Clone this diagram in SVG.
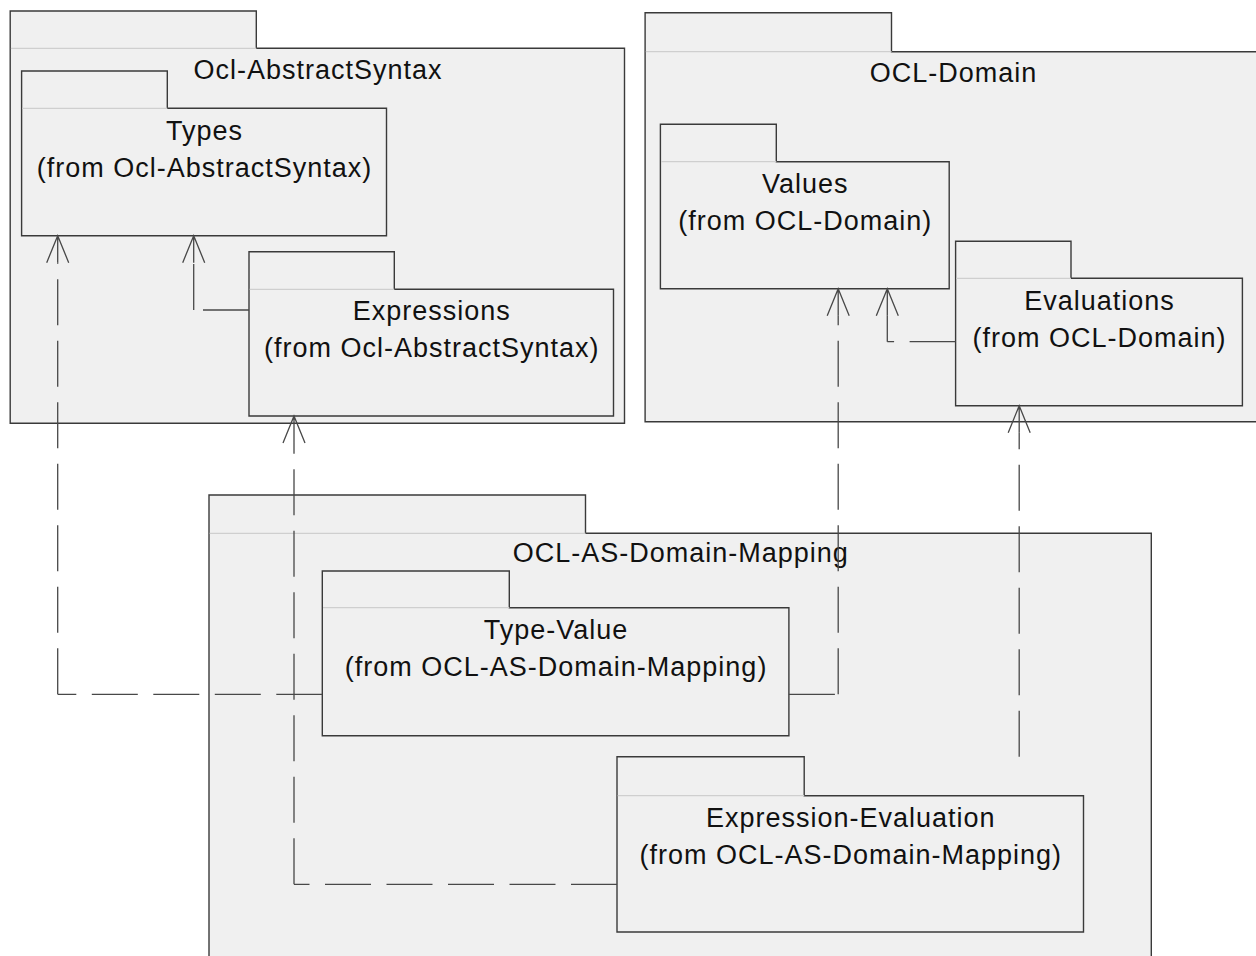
<svg xmlns="http://www.w3.org/2000/svg" width="1256" height="956" viewBox="0 0 1256 956">
<defs>
<style>
.pkg{fill:#f0f0f0;stroke:#3a3a3a;stroke-width:1.4}
.sep{stroke:#cfcfcf;stroke-width:1.2;fill:none}
.lbl{font-family:"Liberation Sans",Arial,sans-serif;font-size:27px;letter-spacing:1px;fill:#111;text-anchor:middle}
.dash{stroke:#484848;stroke-width:1.3;fill:none;stroke-dasharray:46 15.5}
.head{stroke:#484848;stroke-width:1.3;fill:none}
</style>
</defs>
<rect width="1256" height="956" fill="#ffffff"/>

<g id="ocl-abstractsyntax">
<path class="pkg" d="M10.2,11 H256.3 V48.3 H624.5 V423.3 H10.2 Z"/>
<line class="sep" x1="10.9" y1="48.3" x2="256.3" y2="48.3"/>
<text class="lbl" x="318" y="79.3">Ocl-AbstractSyntax</text>
</g>

<g id="types">
<path class="pkg" d="M21.6,71 H167.3 V108.3 H386.5 V235.7 H21.6 Z"/>
<line class="sep" x1="22.3" y1="108.3" x2="167.3" y2="108.3"/>
<text class="lbl" x="204.5" y="140">Types</text>
<text class="lbl" x="204.5" y="176.5">(from Ocl-AbstractSyntax)</text>
</g>

<g id="expressions">
<path class="pkg" d="M249,251.7 H394.3 V289.3 H613.5 V416 H249 Z"/>
<line class="sep" x1="249.7" y1="289.3" x2="394.3" y2="289.3"/>
<text class="lbl" x="431.7" y="320">Expressions</text>
<text class="lbl" x="431.7" y="357.3">(from Ocl-AbstractSyntax)</text>
</g>

<g id="ocl-domain">
<path class="pkg" d="M645.1,12.7 H891.5 V51.7 H1262 V421.7 H645.1 Z"/>
<line class="sep" x1="645.8" y1="51.7" x2="891.5" y2="51.7"/>
<text class="lbl" x="953.5" y="81.5">OCL-Domain</text>
</g>

<g id="values">
<path class="pkg" d="M660.4,124.3 H776.3 V161.7 H949.2 V288.7 H660.4 Z"/>
<line class="sep" x1="661.1" y1="161.7" x2="776.3" y2="161.7"/>
<text class="lbl" x="805.3" y="193.3">Values</text>
<text class="lbl" x="805.3" y="230">(from OCL-Domain)</text>
</g>

<g id="evaluations">
<path class="pkg" d="M955.6,241.3 H1071 V278.3 H1242.4 V405.7 H955.6 Z"/>
<line class="sep" x1="956.3" y1="278.3" x2="1071" y2="278.3"/>
<text class="lbl" x="1099.5" y="310">Evaluations</text>
<text class="lbl" x="1099.5" y="347">(from OCL-Domain)</text>
</g>

<g id="ocl-as-domain-mapping">
<path class="pkg" d="M209,495 H585.5 V533.3 H1151.3 V962 H209 Z"/>
<line class="sep" x1="209.7" y1="533.3" x2="585.5" y2="533.3"/>
<text class="lbl" x="680.7" y="562">OCL-AS-Domain-Mapping</text>
</g>

<g id="type-value">
<path class="pkg" d="M322.3,571 H509.3 V607.7 H788.9 V735.7 H322.3 Z"/>
<line class="sep" x1="323" y1="607.7" x2="509.3" y2="607.7"/>
<text class="lbl" x="556.1" y="638.5">Type-Value</text>
<text class="lbl" x="556.1" y="675.5">(from OCL-AS-Domain-Mapping)</text>
</g>

<g id="expression-evaluation">
<path class="pkg" d="M617,756.7 H804.2 V795.7 H1083.5 V932 H617 Z"/>
<line class="sep" x1="617.7" y1="795.7" x2="804.2" y2="795.7"/>
<text class="lbl" x="850.8" y="826.7">Expression-Evaluation</text>
<text class="lbl" x="850.8" y="863.7">(from OCL-AS-Domain-Mapping)</text>
</g>

<g id="connectors">
<!-- Type-Value -> Types -->
<line class="dash" x1="322.3" y1="694.3" x2="57.7" y2="694.3"/>
<line class="dash" x1="57.7" y1="694.3" x2="57.7" y2="262.7"/>
<path class="head" d="M46.7,262.7 L57.7,235.7 L68.7,262.7 M57.7,235.7 V262.7"/>
<!-- Expressions -> Types -->
<line class="dash" x1="249" y1="310" x2="193.7" y2="310"/>
<line class="dash" x1="193.7" y1="310" x2="193.7" y2="262.7"/>
<path class="head" d="M182.7,262.7 L193.7,235.7 L204.7,262.7 M193.7,235.7 V262.7"/>
<!-- Type-Value -> Values -->
<line class="dash" x1="788.9" y1="694.3" x2="838.2" y2="694.3"/>
<line class="dash" x1="838.2" y1="694.3" x2="838.2" y2="315.7"/>
<path class="head" d="M827.2,315.7 L838.2,288.7 L849.2,315.7 M838.2,288.7 V315.7"/>
<!-- Evaluations -> Values -->
<line class="dash" x1="955.6" y1="341.7" x2="887.3" y2="341.7"/>
<line class="dash" x1="887.3" y1="341.7" x2="887.3" y2="315.7"/>
<path class="head" d="M876.3,315.7 L887.3,288.7 L898.3,315.7 M887.3,288.7 V315.7"/>
<!-- Expression-Evaluation -> Evaluations -->
<line class="dash" x1="1019.2" y1="756.7" x2="1019.2" y2="432.7"/>
<path class="head" d="M1008.2,432.7 L1019.2,405.7 L1030.2,432.7 M1019.2,405.7 V432.7"/>
<!-- Expression-Evaluation -> Expressions -->
<line class="dash" x1="617" y1="884.3" x2="294" y2="884.3"/>
<line class="dash" x1="294" y1="884.3" x2="294" y2="443"/>
<path class="head" d="M283,443 L294,416 L305,443 M294,416 V443"/>
</g>
</svg>
